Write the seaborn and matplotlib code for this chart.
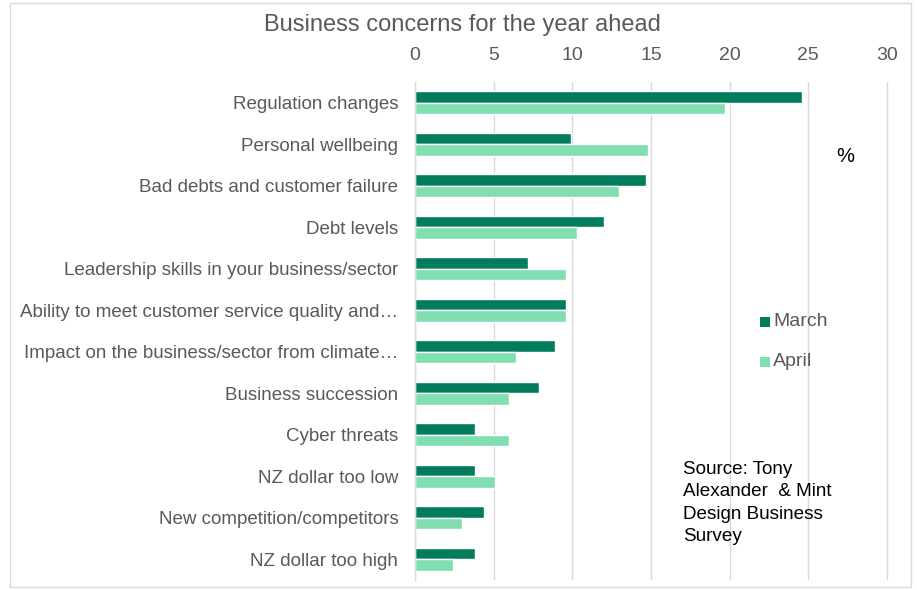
import matplotlib
matplotlib.use("Agg")
import matplotlib.pyplot as plt
from matplotlib.patches import Rectangle
import seaborn as sns
import pandas as pd

categories = [
    "Regulation changes",
    "Personal wellbeing",
    "Bad debts and customer failure",
    "Debt levels",
    "Leadership skills in your business/sector",
    "Ability to meet customer service quality and\u2026",
    "Impact on the business/sector from climate\u2026",
    "Business succession",
    "Cyber threats",
    "NZ dollar too low",
    "New competition/competitors",
    "NZ dollar too high",
]
march = [24.6, 9.9, 14.7, 12.0, 7.2, 9.6, 8.9, 7.9, 3.8, 3.8, 4.4, 3.8]
april = [19.7, 14.8, 13.0, 10.3, 9.6, 9.6, 6.4, 6.0, 6.0, 5.1, 3.0, 2.4]
series = ["March", "April"]
x_ticks = [0, 5, 10, 15, 20, 25, 30]

df = pd.DataFrame({
    "concern": categories * 2,
    "value": march + april,
    "month": [series[0]] * len(categories) + [series[1]] * len(categories),
})

sns.set_theme(style="white")
plt.rcParams["font.family"] = ["Liberation Sans", "DejaVu Sans"]
text_grey = "#595959"
colors = ["#017D5E", "#80DEB0"]

fig = plt.figure(figsize=(9.17, 5.9), dpi=100)
ax = fig.add_axes([415 / 917, 1 - 580 / 590, 475 / 917, 498 / 590])

sns.barplot(
    data=df, y="concern", x="value", hue="month", order=categories,
    hue_order=series, palette=colors, orient="h",
    width=0.55, saturation=1, ax=ax, legend=False,
)

ax.set_xlim(0, 30.2)
ax.set_xticks(x_ticks)
ax.xaxis.tick_top()
ax.tick_params(axis="x", length=0, labelsize=14, labelcolor=text_grey, pad=13)
ax.tick_params(axis="y", length=0, labelsize=13.5, labelcolor=text_grey, pad=12)
ax.set_xlabel("")
ax.set_ylabel("")
ax.grid(axis="x", color="#d9d9d9", linewidth=1)
ax.set_axisbelow(True)
for side in ["top", "right", "bottom"]:
    ax.spines[side].set_visible(False)
ax.spines["left"].set_color("#d9d9d9")
ax.spines["left"].set_linewidth(1)

fig.text(462 / 917, 1 - 25 / 590, "Business concerns for the year ahead",
         ha="center", va="center", fontsize=17, color=text_grey)
fig.text(845 / 917, 1 - 157 / 590, "%", ha="center", va="center",
         fontsize=14.5, color="black")

# legend entries
for i, (name, col) in enumerate(zip(series, colors)):
    y = 1 - (322 + 40 * i) / 590
    fig.patches.append(Rectangle((760 / 917, y - 5 / 590), 10 / 917, 10 / 590,
                                 transform=fig.transFigure, facecolor=col,
                                 edgecolor="none"))
    fig.text(773 / 917, y + 1 / 590, name, ha="left", va="center", fontsize=14,
             color=text_grey)

fig.text(683 / 917, 1 - 461 / 590,
         "Source: Tony\nAlexander  & Mint\nDesign Business\nSurvey",
         ha="left", va="top", fontsize=13.6, color="black", linespacing=1.42)

fig.patches.append(Rectangle((10 / 917, 3 / 590), 901 / 917, 584 / 590,
                             transform=fig.transFigure, fill=False,
                             edgecolor="#d9d9d9", linewidth=1))

fig.savefig("out.png", dpi=100)
